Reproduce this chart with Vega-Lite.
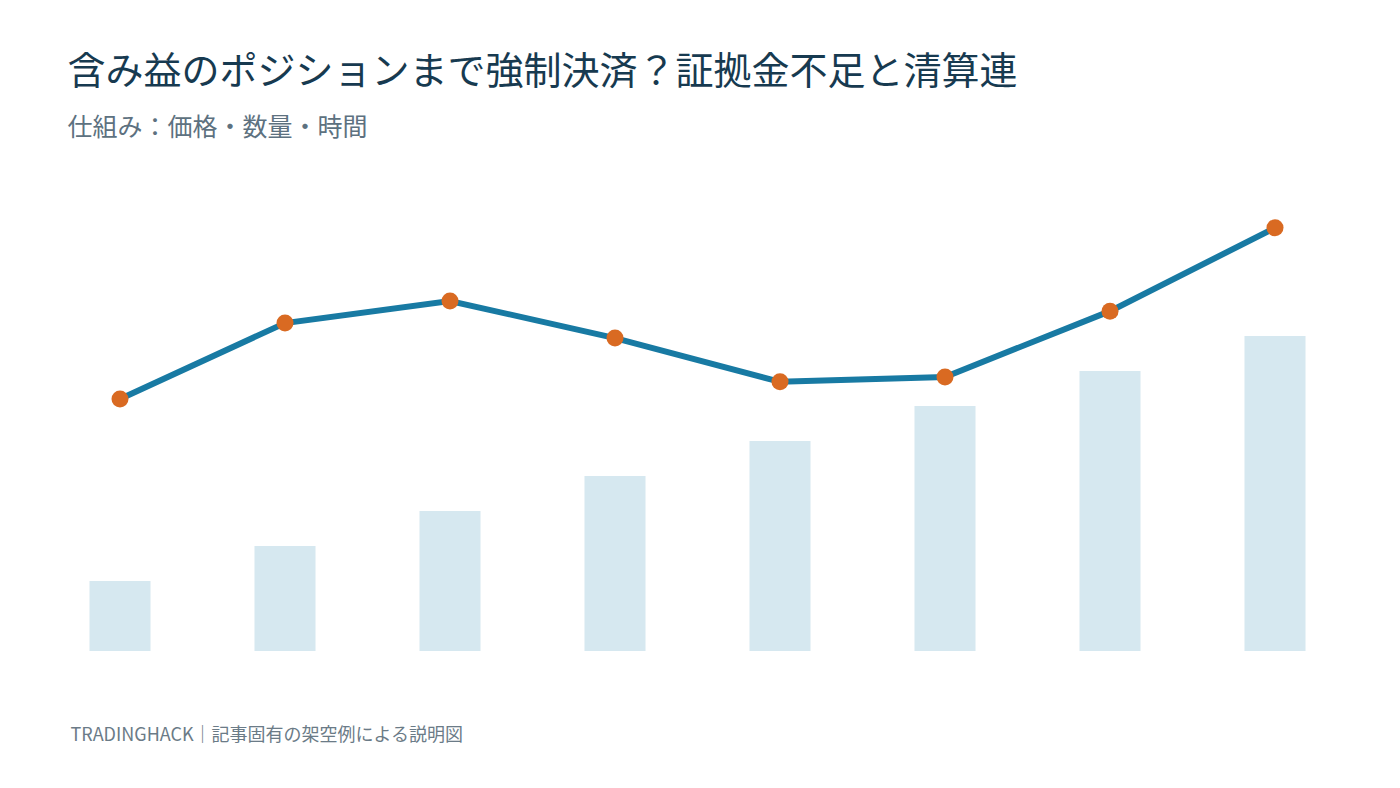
{
  "$schema": "https://vega.github.io/schema/vega-lite/v6.json",
  "autosize": "none",
  "width": 1320,
  "height": 472.5,
  "padding": {"left": 37.5, "top": 178.5, "right": 42.5, "bottom": 137},
  "background": "white",
  "config": {
    "view": {"stroke": null},
    "font": "Noto Sans CJK JP"
  },
  "title": {
    "text": "含み益のポジションまで強制決済？証拠金不足と清算連",
    "subtitle": "仕組み：価格・数量・時間",
    "anchor": "start",
    "frame": "group",
    "dx": 30,
    "offset": 38,
    "font": "Noto Sans CJK JP",
    "fontSize": 38,
    "fontWeight": "normal",
    "color": "#173a50",
    "subtitleFont": "Noto Sans CJK JP",
    "subtitleFontSize": 25,
    "subtitleColor": "#5d7180",
    "subtitlePadding": 24
  },
  "data": {
    "values": [
      {"step": "1", "volume": 20, "price": 72.0},
      {"step": "2", "volume": 30, "price": 93.7},
      {"step": "3", "volume": 40, "price": 100.0},
      {"step": "4", "volume": 50, "price": 89.4},
      {"step": "5", "volume": 60, "price": 76.9},
      {"step": "6", "volume": 70, "price": 78.3},
      {"step": "7", "volume": 80, "price": 97.1},
      {"step": "8", "volume": 90, "price": 120.9}
    ]
  },
  "encoding": {
    "x": {
      "field": "step",
      "type": "ordinal",
      "sort": null,
      "scale": {"type": "point", "padding": 0.5},
      "axis": {
        "labels": false,
        "ticks": false,
        "domain": false,
        "grid": false,
        "title": "TRADINGHACK｜記事固有の架空例による説明図",
        "titleFont": "Noto Sans CJK JP",
        "titleFontSize": 18,
        "titleFontWeight": "normal",
        "titleColor": "#6b7b87",
        "titleAnchor": "start",
        "titleAlign": "left",
        "titleBaseline": "alphabetic",
        "titleX": 32.5,
        "titleY": 89
      }
    }
  },
  "layer": [
    {
      "mark": {"type": "bar", "size": 61, "color": "#d6e8f0"},
      "encoding": {
        "y": {"field": "volume", "type": "quantitative", "scale": {"domain": [0, 135]}, "axis": null}
      }
    },
    {
      "mark": {"type": "line", "color": "#187aa3", "strokeWidth": 6},
      "encoding": {
        "y": {"field": "price", "type": "quantitative", "scale": {"domain": [0, 135]}, "axis": null}
      }
    },
    {
      "mark": {"type": "point", "filled": true, "opacity": 1, "size": 290, "color": "#d96a22"},
      "encoding": {
        "y": {"field": "price", "type": "quantitative", "scale": {"domain": [0, 135]}, "axis": null}
      }
    }
  ]
}
